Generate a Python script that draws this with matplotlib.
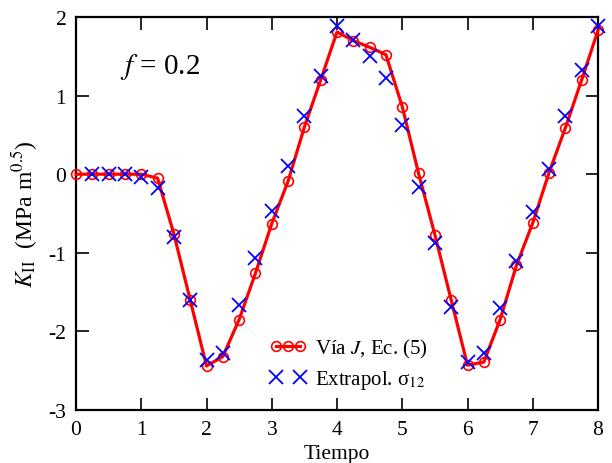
import matplotlib
matplotlib.use("Agg")
import matplotlib.pyplot as plt
from matplotlib.legend_handler import HandlerLine2D

plt.rcParams['font.family'] = ['Liberation Serif', 'DejaVu Serif']
plt.rcParams['mathtext.fontset'] = 'stix'
plt.rcParams['axes.unicode_minus'] = False

t_j = [0, 0.25, 0.5, 0.75, 1.0, 1.25, 1.5, 1.75, 2.0, 2.25, 2.5, 2.75, 3.0, 3.25,
       3.5, 3.75, 4.0, 4.25, 4.5, 4.75, 5.0, 5.25, 5.5, 5.75, 6.0, 6.25, 6.5, 6.75,
       7.0, 7.25, 7.5, 7.75, 8.0]
k_j = [0, 0, 0, 0, 0, -0.05, -0.76, -1.60, -2.44, -2.32, -1.85, -1.26, -0.63, -0.09,
       0.60, 1.20, 1.81, 1.70, 1.615, 1.52, 0.86, 0.01, -0.77, -1.60, -2.43, -2.39,
       -1.85, -1.16, -0.62, 0.02, 0.59, 1.20, 1.83]
t_s = [0.25, 0.5, 0.75, 1.0, 1.25, 1.5, 1.75, 2.0, 2.25, 2.5, 2.75, 3.0, 3.25,
       3.5, 3.75, 4.0, 4.25, 4.5, 4.75, 5.0, 5.25, 5.5, 5.75, 6.0, 6.25, 6.5, 6.75,
       7.0, 7.25, 7.5, 7.75, 8.0]
k_s = [0, 0, 0, -0.03, -0.17, -0.80, -1.60, -2.36, -2.27, -1.67, -1.06, -0.47, 0.10,
       0.745, 1.25, 1.89, 1.71, 1.50, 1.23, 0.62, -0.16, -0.87, -1.69, -2.39, -2.27,
       -1.70, -1.10, -0.485, 0.07, 0.74, 1.325, 1.88]

fig = plt.figure(figsize=(6.12, 4.64), dpi=100)
ax = fig.add_axes([76/612, 1-411/464, 522/612, 393/464])

l1, = ax.plot(t_j, k_j, color='#ff0000', lw=2.3, marker='o', ms=7, mfc='none',
              mec='#ff0000', mew=1.2, label=r'Vía $J$, Ec. (5)', zorder=3, clip_on=False)
l2, = ax.plot(t_s, k_s, ls='none', marker='x', ms=10, mew=1.3, color='#0000ff',
              label='Extrapol. σ$_{12}$', zorder=4, clip_on=False)

ax.set_xlim(0, 8)
ax.set_ylim(-3, 2)
ax.set_xticks(range(0, 9))
ax.set_yticks(range(-3, 3))
ax.tick_params(direction='in', length=9, width=1.2, top=True, right=True,
               labelsize=15.5, pad=7)
for s in ax.spines.values():
    s.set_linewidth(1.6)

ax.set_xlabel('Tiempo', fontsize=15.5, labelpad=4)
ax.set_ylabel(r'$K_{\rm II}$  (MPa m$^{0.5}$)', fontsize=17, labelpad=6)

ax.text(0.67, 1.38, r'$f$ = 0.2', fontsize=21, ha='left', va='center')

ax.legend(handles=[l1, l2], loc='lower left', bbox_to_anchor=(0.335, 0.0),
          frameon=False, fontsize=15, numpoints=3, handlelength=1.75,
          handletextpad=0.45, labelspacing=0.4,
          handler_map={l2: HandlerLine2D(numpoints=2)})

fig.savefig('out.png', dpi=100)
